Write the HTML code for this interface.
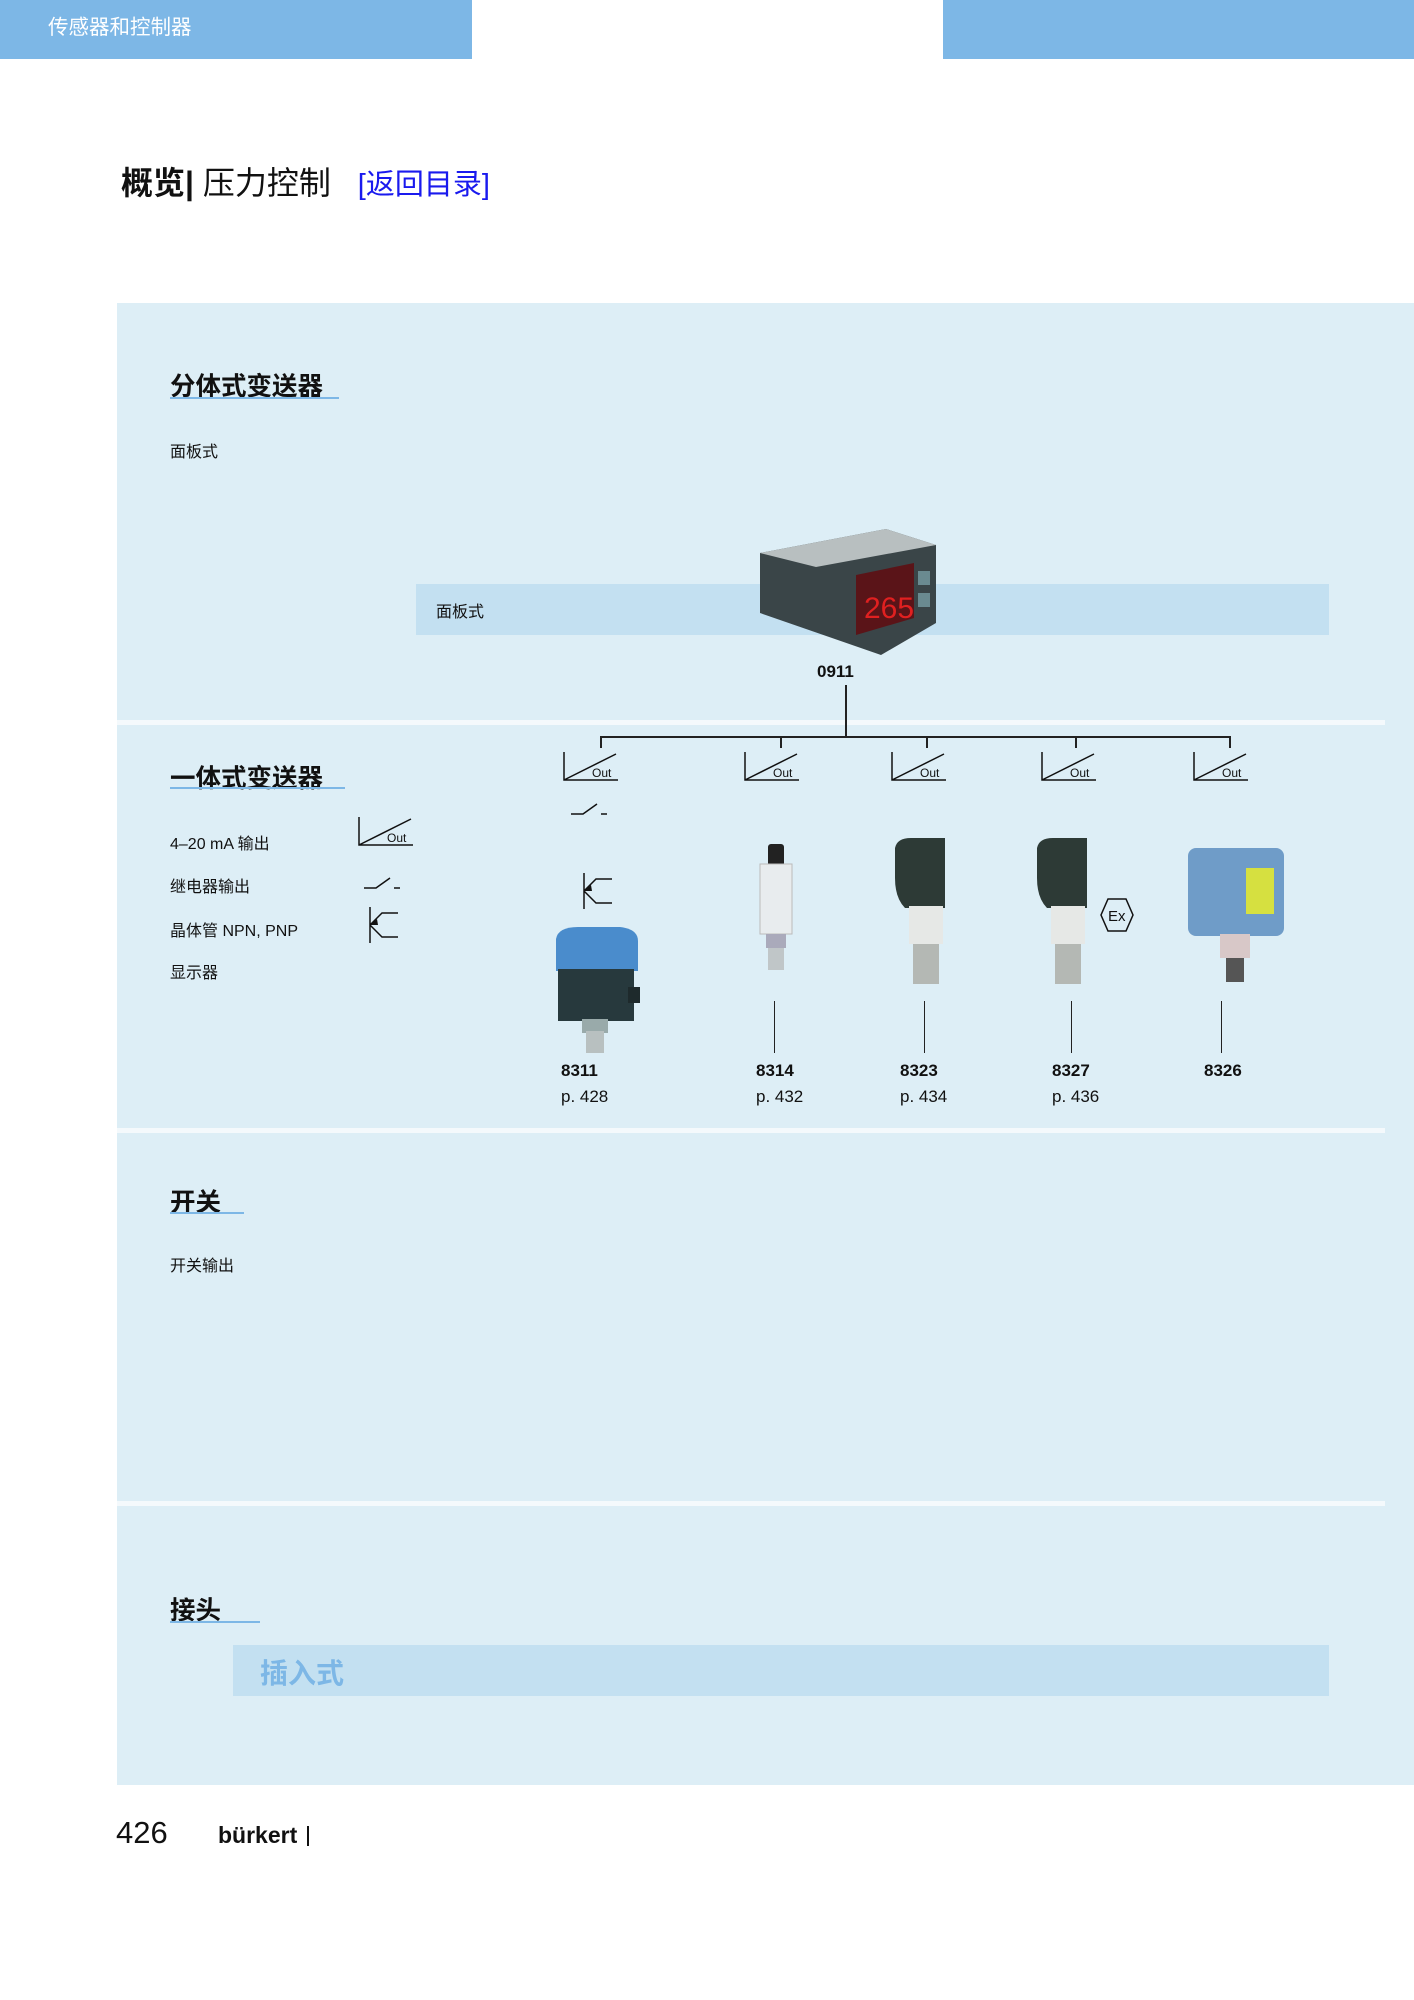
<!DOCTYPE html>
<html><head><meta charset="utf-8">
<style>
body{margin:0;width:1414px;height:2000px;position:relative;background:#fff;font-family:"Liberation Sans","Noto Sans CJK SC",sans-serif;overflow:hidden}
.a{position:absolute}
.t{position:absolute;white-space:nowrap;color:#111}
.sep{position:absolute;left:117px;width:1268px;height:5px;background:#f4f9fc}
.h{font-weight:bold;font-size:25.5px}
.ul{position:absolute;height:2px;background:#7db7e6}
.s{font-size:16px}
.vl{position:absolute;width:1.5px;background:#222}
.lbl{font-size:17px;font-weight:bold}
.pg{font-size:17px}
</style></head><body>
<div class="a" style="left:0;top:0;width:472px;height:59px;background:#7db7e6"></div>
<div class="a" style="left:943px;top:0;width:471px;height:59px;background:#7db7e6"></div>
<div class="t" style="left:48px;top:10px;color:#fff;font-size:20.5px">传感器和控制器</div>
<div class="t" style="left:121px;top:158px;font-size:32px"><b>概览|</b> 压力控制 <span style="color:#1a1aee;font-size:29px;margin-left:18px">[返回目录]</span></div>

<div class="a" style="left:117px;top:303px;width:1297px;height:1482px;background:#ddeef6"></div>
<div class="sep" style="top:720px"></div>
<div class="sep" style="top:1128px"></div>
<div class="sep" style="top:1501px"></div>

<div class="t h" style="left:170px;top:366px">分体式变送器</div>
<div class="ul" style="left:170px;top:397px;width:169px"></div>
<div class="t s" style="left:170px;top:438px">面板式</div>
<div class="a" style="left:416px;top:584px;width:913px;height:51px;background:#c3e0f1"></div>
<div class="t s" style="left:436px;top:598px">面板式</div>
<svg class="a" style="left:756px;top:523px" width="185" height="136">
<polygon points="4,30 130,6 180,22 180,100 125,132 4,90" fill="#3a4548"/>
<polygon points="4,30 130,6 180,22 60,44" fill="#b8bfc0"/>
<polygon points="100,52 158,40 158,95 100,112" fill="#5a1418"/>
<text x="108" y="95" fill="#e02020" font-size="30" font-family="Liberation Sans">265</text>
<rect x="162" y="48" width="12" height="14" fill="#6a8a90"/><rect x="162" y="70" width="12" height="14" fill="#6a8a90"/>
</svg>
<div class="t lbl" style="left:817px;top:662px">0911</div>
<div class="vl" style="left:845px;top:685px;height:52px"></div>
<div class="a" style="left:600px;top:736px;width:630px;height:1.5px;background:#222"></div>
<div class="vl" style="left:600px;top:736px;height:12px"></div>
<div class="vl" style="left:780px;top:736px;height:12px"></div>
<div class="vl" style="left:926px;top:736px;height:12px"></div>
<div class="vl" style="left:1075px;top:736px;height:12px"></div>
<div class="vl" style="left:1229px;top:736px;height:12px"></div>

<svg width="0" height="0" style="position:absolute"><defs>
<g id="out"><path d="M2,0 V28 H56 M2,28 L54,2" stroke="#111" stroke-width="1.5" fill="none"/><text x="30" y="25" font-size="12" font-family="Liberation Sans" fill="#111">Out</text></g>
<g id="rel"><path d="M0,14 H12 L26,4 M30,14 H36" stroke="#111" stroke-width="1.5" fill="none"/></g>
<g id="tr"><path d="M2,0 V36 M2,18 L14,6 H30 M2,18 L14,30 H30" stroke="#111" stroke-width="1.5" fill="none"/><path d="M2,18 L9,12 L10,18Z" fill="#111"/></g>
</defs></svg>
<svg class="a" style="left:562px;top:752px" width="60" height="32"><use href="#out"/></svg>
<svg class="a" style="left:743px;top:752px" width="60" height="32"><use href="#out"/></svg>
<svg class="a" style="left:890px;top:752px" width="60" height="32"><use href="#out"/></svg>
<svg class="a" style="left:1040px;top:752px" width="60" height="32"><use href="#out"/></svg>
<svg class="a" style="left:1192px;top:752px" width="60" height="32"><use href="#out"/></svg>

<div class="t h" style="left:170px;top:758px">一体式变送器</div>
<div class="ul" style="left:170px;top:787px;width:175px"></div>
<div class="t s" style="left:170px;top:830px">4–20 mA 输出</div>
<div class="t s" style="left:170px;top:873px">继电器输出</div>
<div class="t s" style="left:170px;top:917px">晶体管 NPN, PNP</div>
<div class="t s" style="left:170px;top:959px">显示器</div>
<svg class="a" style="left:357px;top:817px" width="60" height="32"><use href="#out"/></svg>
<svg class="a" style="left:364px;top:874px" width="40" height="20"><use href="#rel"/></svg>
<svg class="a" style="left:368px;top:907px" width="34" height="38"><use href="#tr"/></svg>
<svg class="a" style="left:571px;top:800px" width="40" height="20"><use href="#rel"/></svg>
<svg class="a" style="left:582px;top:873px" width="34" height="38"><use href="#tr"/></svg>

<svg class="a" style="left:548px;top:925px" width="100" height="130">
<path d="M8,14 Q10,2 30,2 H72 Q90,4 90,16 V46 H8Z" fill="#4a8ccc"/>
<rect x="10" y="44" width="76" height="52" fill="#27393d"/>
<rect x="80" y="62" width="12" height="16" fill="#1e2a2c"/>
<rect x="34" y="94" width="26" height="14" fill="#9aa"/><rect x="38" y="106" width="18" height="22" fill="#b8c0c0"/>
</svg>
<svg class="a" style="left:754px;top:844px" width="45" height="128">
<rect x="14" y="0" width="16" height="22" rx="3" fill="#222"/>
<rect x="6" y="20" width="32" height="70" fill="#e8ecee" stroke="#bbb"/>
<rect x="12" y="90" width="20" height="14" fill="#aab"/><rect x="14" y="104" width="16" height="22" fill="#c0c6c8"/>
</svg>
<svg class="a" style="left:891px;top:838px" width="70" height="150">
<path d="M4,10 Q6,0 20,0 H54 V70 H14 Q4,60 4,40Z" fill="#2d3a36"/>
<rect x="18" y="68" width="34" height="38" fill="#e6e8e6"/>
<rect x="22" y="106" width="26" height="40" fill="#b4b8b4"/>
</svg>
<svg class="a" style="left:1033px;top:838px" width="70" height="150">
<path d="M4,10 Q6,0 20,0 H54 V70 H14 Q4,60 4,40Z" fill="#2d3a36"/>
<rect x="18" y="68" width="34" height="38" fill="#e6e8e6"/>
<rect x="22" y="106" width="26" height="40" fill="#b4b8b4"/>
</svg>
<svg class="a" style="left:1099px;top:897px" width="36" height="36">
<polygon points="9,2 27,2 34,18 27,34 9,34 2,18" fill="none" stroke="#111" stroke-width="1.5"/>
<text x="9" y="24" font-size="15" font-family="Liberation Sans" fill="#111">Ex</text>
</svg>
<svg class="a" style="left:1184px;top:838px" width="105" height="148">
<rect x="4" y="10" width="96" height="88" rx="8" fill="#6f9cc8"/>
<rect x="62" y="30" width="28" height="46" fill="#d6e040"/>
<rect x="36" y="96" width="30" height="24" fill="#d8c8c8"/>
<rect x="42" y="120" width="18" height="24" fill="#555"/>
</svg>

<div class="vl" style="left:774px;top:1001px;height:52px;width:1px"></div>
<div class="vl" style="left:924px;top:1001px;height:52px;width:1px"></div>
<div class="vl" style="left:1071px;top:1001px;height:52px;width:1px"></div>
<div class="vl" style="left:1221px;top:1001px;height:52px;width:1px"></div>

<div class="t lbl" style="left:561px;top:1061px">8311</div><div class="t pg" style="left:561px;top:1087px">p. 428</div>
<div class="t lbl" style="left:756px;top:1061px">8314</div><div class="t pg" style="left:756px;top:1087px">p. 432</div>
<div class="t lbl" style="left:900px;top:1061px">8323</div><div class="t pg" style="left:900px;top:1087px">p. 434</div>
<div class="t lbl" style="left:1052px;top:1061px">8327</div><div class="t pg" style="left:1052px;top:1087px">p. 436</div>
<div class="t lbl" style="left:1204px;top:1061px">8326</div>

<div class="t h" style="left:170px;top:1182px">开关</div>
<div class="ul" style="left:170px;top:1212px;width:74px"></div>
<div class="t s" style="left:170px;top:1252px">开关输出</div>

<div class="t h" style="left:170px;top:1590px">接头</div>
<div class="ul" style="left:170px;top:1621px;width:90px"></div>
<div class="a" style="left:233px;top:1645px;width:1096px;height:51px;background:#c3e0f1"></div>
<div class="t" style="left:260px;top:1652px;font-size:28px;font-weight:bold;color:#7db7e6">插入式</div>

<div class="t" style="left:116px;top:1815px;font-size:31px">426</div>
<div class="t" style="left:218px;top:1822px;font-size:23px;font-weight:bold">bürkert</div>
<div class="a" style="left:307px;top:1826px;width:2px;height:20px;background:#111"></div>
</body></html>
